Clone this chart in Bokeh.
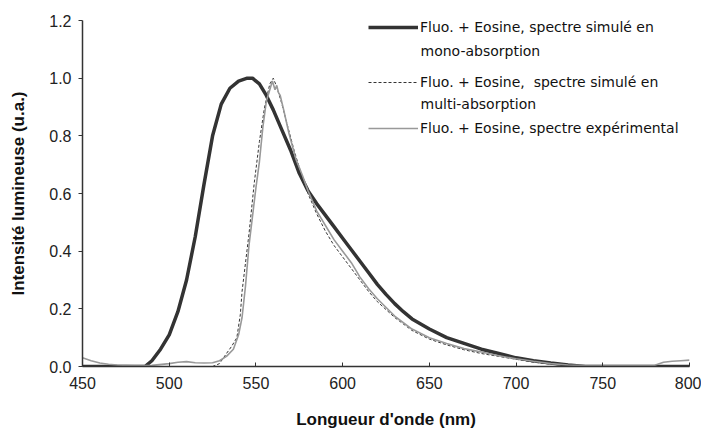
from bokeh.plotting import figure
from bokeh.models import Range1d, FixedTicker, Legend, LegendItem, Label, NumeralTickFormatter
from bokeh.embed import file_html
from bokeh.resources import INLINE

# ---- data ----
mono_x = [450, 486, 490, 495, 500, 505, 510, 515, 520, 525, 530, 535, 540, 545, 548,
          552, 556, 560, 565, 570, 575, 580, 585, 590, 595, 600, 605, 610, 615, 620,
          625, 630, 635, 640, 650, 660, 670, 680, 690, 700, 710, 720, 730, 740, 750, 800]
mono_y = [0.0, 0.0, 0.02, 0.06, 0.11, 0.19, 0.30, 0.45, 0.63, 0.80, 0.91, 0.965, 0.99, 1.0, 1.0,
          0.98, 0.94, 0.89, 0.82, 0.75, 0.67, 0.61, 0.565, 0.525, 0.485, 0.445, 0.405, 0.365,
          0.325, 0.285, 0.25, 0.218, 0.19, 0.165, 0.13, 0.10, 0.08, 0.06, 0.045, 0.03, 0.02,
          0.012, 0.005, 0.0, 0.0, 0.0]

multi_x = [450, 525, 529, 533, 536, 539, 541, 542, 544, 546, 549, 552, 555, 558, 560,
           562, 565, 568, 572, 576, 580, 585, 590, 595, 600, 605, 610, 615, 620, 630,
           640, 650, 660, 670, 680, 690, 700, 710, 720, 730, 740, 800]
multi_y = [0.0, 0.0, 0.01, 0.045, 0.07, 0.10, 0.18, 0.26, 0.36, 0.46, 0.635, 0.78, 0.90, 0.98, 1.0,
           0.97, 0.91, 0.84, 0.75, 0.67, 0.60, 0.53, 0.47, 0.42, 0.38, 0.34, 0.30, 0.26, 0.225, 0.17,
           0.125, 0.095, 0.075, 0.058, 0.045, 0.035, 0.025, 0.015, 0.008, 0.003, 0.0, 0.0]

exp_x = [450, 455, 460, 465, 470, 480, 490, 500, 505, 510, 515, 520, 525, 529, 533, 537,
         540, 542, 544, 546, 548, 550, 552, 554, 556, 558, 559.5, 561, 562, 563, 564, 566,
         569, 573, 577, 580, 585, 590, 595, 600, 605, 610, 615, 620, 630, 640, 650, 660,
         670, 680, 690, 700, 710, 720, 730, 740, 760, 780, 785, 790, 795, 800]
exp_y = [0.03, 0.02, 0.012, 0.008, 0.005, 0.003, 0.004, 0.01, 0.015, 0.017, 0.013, 0.012, 0.013,
         0.02, 0.035, 0.06, 0.11, 0.17, 0.28, 0.42, 0.52, 0.62, 0.71, 0.83, 0.92, 0.96, 0.99,
         0.96, 0.975, 0.95, 0.94, 0.89, 0.81, 0.72, 0.66, 0.61, 0.54, 0.49, 0.44, 0.40, 0.36,
         0.31, 0.27, 0.235, 0.175, 0.13, 0.10, 0.08, 0.062, 0.05, 0.037, 0.027, 0.018, 0.01,
         0.005, 0.003, 0.003, 0.004, 0.015, 0.018, 0.02, 0.022]

x_ticks = [450, 500, 550, 600, 650, 700, 750, 800]
y_ticks = [0.0, 0.2, 0.4, 0.6, 0.8, 1.0, 1.2]

labels = ["Fluo. + Eosine, spectre simulé en", "Fluo. + Eosine,  spectre simulé en",
          "Fluo. + Eosine, spectre expérimental"]
labels2 = ["mono-absorption", "multi-absorption"]

FONT = "DejaVu Sans"
NARROW = "'Liberation Sans Narrow', 'Liberation Sans', sans-serif"

p = figure(frame_width=607, frame_height=346,
           x_range=Range1d(450, 800), y_range=Range1d(0, 1.2),
           output_backend="svg", toolbar_location=None,
           min_border_left=82, min_border_right=12, min_border_top=20, min_border_bottom=61)
p.outline_line_color = None
p.xgrid.visible = False
p.ygrid.visible = False
p.background_fill_color = "white"
p.border_fill_color = "white"

r_mono = p.line(mono_x, mono_y, line_color="#333333", line_width=3.5)
r_multi = p.line(multi_x, multi_y, line_color="#333333", line_width=1, line_dash="3 2")
r_exp = p.line(exp_x, exp_y, line_color="#999999", line_width=1.6)

for ax in (p.xaxis[0], p.yaxis[0]):
    ax.axis_line_color = "#333333"
    ax.axis_line_width = 1.5
    ax.major_tick_line_color = "#333333"
    ax.minor_tick_line_color = None
    ax.major_label_text_font = NARROW
    ax.major_label_text_font_size = "16px"
    ax.major_label_text_color = "#222222"
    ax.axis_label_text_font = NARROW
    ax.axis_label_text_font_size = "17px"
    ax.axis_label_text_font_style = "bold"
    ax.axis_label_text_color = "#111111"

p.xaxis.ticker = FixedTicker(ticks=x_ticks)
p.yaxis.ticker = FixedTicker(ticks=y_ticks)
p.yaxis.formatter = NumeralTickFormatter(format="0.0")
p.xaxis.major_tick_in = 4
p.xaxis.major_tick_out = 0
p.yaxis.major_tick_in = 0
p.yaxis.major_tick_out = 4
p.xaxis.major_label_standoff = 10
p.yaxis.major_label_standoff = 7
p.xaxis.axis_label = "Longueur d'onde (nm)"
p.yaxis.axis_label = "Intensité lumineuse (u.a.)"
p.xaxis.axis_label_standoff = 18
p.yaxis.axis_label_standoff = 18

# legend: one legend per entry so that each can be placed like the reference
leg_y = [331, 276, 230]
for lab, rr, ly in zip(labels, [r_mono, r_multi, r_exp], leg_y):
    leg = Legend(items=[LegendItem(label=lab, renderers=[rr])], location=(286, ly),
                 border_line_color=None, background_fill_alpha=0,
                 glyph_width=50, glyph_height=16, label_height=16, label_standoff=2,
                 padding=0, margin=0, spacing=0,
                 label_text_font=FONT, label_text_font_size="14px",
                 label_text_color="#111111")
    p.add_layout(leg)

for txt, ty in zip(labels2, [316, 263]):
    p.add_layout(Label(x=338, y=ty, x_units="screen", y_units="screen", text=txt,
                       text_baseline="middle", text_font=FONT, text_font_size="14px",
                       text_color="#111111"))

open("out.html", "w").write(file_html(p, INLINE))
